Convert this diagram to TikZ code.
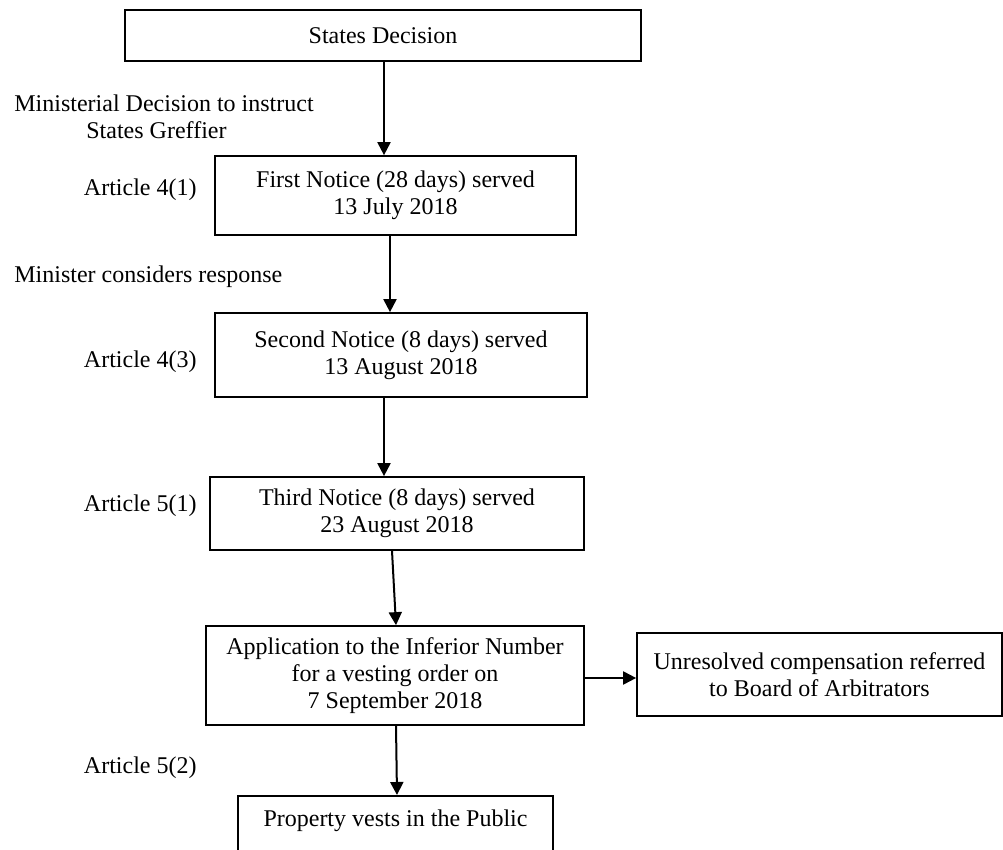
\documentclass[tikz,border=0pt]{standalone}
\usepackage{fontspec}
\setmainfont{Liberation Serif}
\usetikzlibrary{arrows.meta}
\begin{document}
\begin{tikzpicture}[x=0.5pt,y=-0.5pt,
  font=\fontsize{12}{13.5}\selectfont,
  box/.style={draw=black, line width=0.85pt, align=center, inner sep=0pt},
  lbl/.style={inner sep=0pt, align=left},
  arr/.style={draw=black, line width=1pt, -{Triangle[length=6.5pt,width=6.5pt]}}]
\useasboundingbox (0,0) rectangle (1003,850);
\clip (0,0) rectangle (1003,850);
\fill[white] (0,0) rectangle (1003,850);

\node (sd) [box, minimum width=258pt, minimum height=25.5pt] at (383,35.5) {States Decision};
\node (fn) [box, minimum width=180.5pt, minimum height=39.5pt] at (395.5,195.5) {First Notice (28 days) served\\13 July 2018};
\node (sn) [box, minimum width=186pt, minimum height=42pt] at (401,355) {Second Notice (8 days) served\\13 August 2018};
\node (tn) [box, minimum width=187pt, minimum height=36.5pt] at (397,513.5) {Third Notice (8 days) served\\23 August 2018};
\node (ap) [box, minimum width=189pt, minimum height=49.5pt] at (395,675.5) {Application to the Inferior Number\\for a vesting order on\\7 September 2018};
\node (ur) [box, minimum width=182.5pt, minimum height=41.5pt] at (819.5,674.5) {Unresolved compensation referred\\to Board of Arbitrators};
\node (pv) [box, minimum width=157.5pt, minimum height=40pt, anchor=north, text depth=18pt] at (395.5,795) {Property vests in the Public};

\node (l0) [lbl, anchor=north west] at (14,94) {Ministerial Decision to instruct\\\hspace*{36pt}States Greffier};
\node (l1) [lbl, anchor=east] at (197,190) {Article 4(1)};
\node (l2) [lbl, anchor=west] at (14,277) {Minister considers response};
\node (l3) [lbl, anchor=east] at (197,362) {Article 4(3)};
\node (l4) [lbl, anchor=east] at (197,506) {Article 5(1)};
\node (l5) [lbl, anchor=east] at (197,768) {Article 5(2)};

\draw[arr] ([xshift=0.5pt]sd.south) -- ([xshift=-5.75pt]fn.north);
\draw[arr] ([xshift=-2.75pt]fn.south) -- ([xshift=-5.5pt]sn.north);
\draw[arr] ([xshift=-8.5pt]sn.south) -- ([xshift=-6.5pt]tn.north);
\draw[arr] ([xshift=-2.5pt]tn.south) -- ([xshift=0.5pt]ap.north);
\draw[arr] ([xshift=0.5pt]ap.south) -- ([xshift=0.75pt]pv.north);
\draw[arr] ([yshift=-1.25pt]ap.east) -- ([yshift=-1.75pt]ur.west);
\end{tikzpicture}
\end{document}
